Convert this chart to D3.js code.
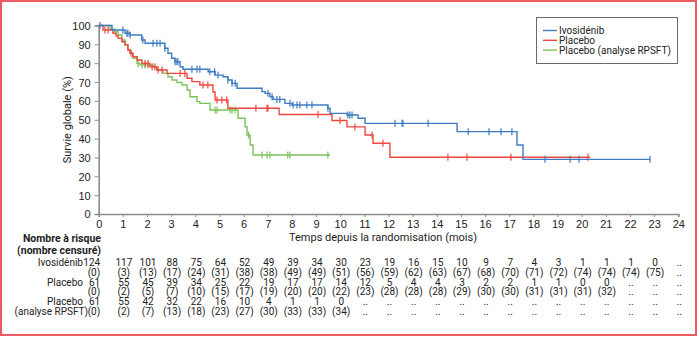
<!DOCTYPE html>
<html>
<head>
<meta charset="utf-8">
<script src="https://cdn.jsdelivr.net/npm/d3@7"></script>
<style>
  body { margin: 0; background: #fff; }
  svg { display: block; font-family: Roboto, "Liberation Sans", sans-serif; }
</style>
</head>
<body>
<svg id="km" width="700" height="337"></svg>
<script>
// x ticks (months) and y ticks (%)
const months = d3.range(0, 25)
const yTicks = d3.range(0, 101, 10)

// Ivosidenib curve: step start times and survival (%)
const ivoT = [0, 0.55, 1.09, 1.30, 1.78, 1.92, 2.74, 2.87, 3.02, 3.16, 3.37, 3.49, 4.53, 4.82, 5.15, 5.35, 5.52, 5.73, 6.76, 6.89, 7.09, 7.22, 7.71, 8.00, 9.49, 9.58, 10.28, 10.74, 11.03, 14.84, 17.32, 17.57]
const ivoS = [100, 97.6, 95.9, 95.0, 92.3, 90.6, 87.9, 85.3, 82.6, 80.8, 78.1, 76.8, 75.5, 73.7, 72.8, 71.1, 69.3, 66.7, 64.9, 64.0, 62.2, 60.8, 58.7, 57.8, 56.1, 53.4, 52.5, 50.8, 48.1, 43.7, 36.6, 29.0]
const ivoEnd = 22.83
const ivoCens = [0.05, 1.0, 1.17, 1.21, 1.3, 1.83, 2.25, 2.41, 2.54, 2.74, 3.16, 3.24, 3.28, 3.86, 4.07, 4.19, 4.6, 4.8, 4.94, 5.35, 5.52, 5.65, 7.01, 7.18, 7.38, 7.5, 7.92, 8.05, 8.21, 8.33, 8.62, 8.83, 9.49, 10.32, 10.4, 10.49, 12.27, 12.56, 12.6, 13.64, 15.3, 16.16, 16.66, 17.11, 18.48, 19.52, 19.89, 22.83]

// Placebo curve
const plaT = [0, 0.18, 0.59, 0.72, 0.80, 0.96, 1.09, 1.21, 1.30, 1.42, 1.59, 1.79, 2.12, 2.41, 2.83, 3.66, 3.86, 4.19, 4.73, 4.82, 5.35, 7.47, 9.66, 10.28, 11.03, 11.36, 12.06]
const plaS = [100, 97.6, 95.9, 94.6, 93.2, 91.4, 89.7, 87.0, 85.3, 83.4, 81.7, 79.9, 78.1, 76.4, 74.6, 72.0, 70.2, 68.4, 64.7, 60.5, 56.1, 52.8, 49.6, 46.2, 41.9, 37.5, 30.1]
const plaEnd = 20.35
const plaCens = [0.26, 0.39, 1.34, 1.92, 2.04, 2.21, 2.33, 2.46, 2.62, 3.37, 3.57, 4.32, 4.52, 4.9, 5.1, 5.3, 6.51, 6.97, 7.01, 9.08, 9.99, 10.61, 11.32, 11.77, 14.46, 15.25, 17.07, 20.26]

// Placebo (analyse RPSFT) curve
const rpsT = [0, 0.47, 0.67, 0.80, 0.96, 1.09, 1.21, 1.30, 1.42, 1.59, 1.71, 2.25, 2.41, 2.66, 2.87, 3.04, 3.24, 3.45, 3.66, 3.78, 4.07, 4.19, 4.61, 5.77, 6.06, 6.14, 6.27, 6.39]
const rpsS = [100, 98.0, 96.7, 95.0, 92.3, 89.7, 87.0, 85.3, 82.6, 79.9, 79.1, 78.1, 76.4, 74.6, 72.8, 71.1, 69.8, 68.4, 65.8, 62.2, 59.6, 58.7, 55.2, 50.8, 46.3, 41.9, 36.6, 31.3]
const rpsEnd = 9.58
const rpsCens = [1.63, 1.8, 1.92, 2.04, 4.82, 4.9, 5.44, 5.52, 5.65, 6.2, 6.76, 6.97, 7.09, 7.83, 7.92, 9.49]

// risk table (null = "..")
const ivoRisk = [124, 117, 101, 88, 75, 64, 52, 49, 39, 34, 30, 23, 19, 16, 15, 10, 9, 7, 4, 3, 1, 1, 1, 0, null]
const ivoCensN = [0, 3, 13, 17, 24, 31, 38, 38, 49, 49, 51, 56, 59, 62, 63, 67, 68, 70, 71, 72, 74, 74, 74, 75, null]
const plaRisk = [61, 55, 45, 39, 34, 25, 22, 19, 17, 17, 14, 12, 5, 4, 4, 3, 2, 2, 1, 1, 0, 0, null, null, null]
const plaCensN = [0, 2, 5, 7, 10, 15, 17, 19, 20, 20, 22, 23, 28, 28, 28, 29, 30, 30, 31, 31, 31, 32, null, null, null]
const rpsRisk = [61, 55, 42, 32, 22, 16, 10, 4, 1, 1, 0, null, null, null, null, null, null, null, null, null, null, null, null, null, null]
const rpsCensN = [0, 2, 7, 13, 18, 23, 27, 30, 33, 33, 34, null, null, null, null, null, null, null, null, null, null, null, null, null, null]

const seriesNames = ["Ivosidénib", "Placebo", "Placebo (analyse RPSFT)"]
const colors = ["#3d7cc2", "#ef4840", "#7cc25a"]

const svg = d3.select("#km")
const x = d3.scaleLinear().domain([0, 24]).range([98.7, 678.3])
const y = d3.scaleLinear().domain([0, 100]).range([214, 25.5])
const txt = "#222"
const axisCol = "#8c8c8c"

// frame
svg.append("rect").attr("x", 1).attr("y", 1).attr("width", 695).attr("height", 334)
    .attr("fill", "none").attr("stroke", "#ec5b60").attr("stroke-width", 2)

// axes
const xAxis = svg.append("g").attr("transform", `translate(0,${y(0)})`)
    .call(d3.axisBottom(x).tickValues(months).tickSize(3).tickPadding(3).tickFormat(d3.format("d")))
const yAxis = svg.append("g").attr("transform", `translate(${x(0)},0)`)
    .call(d3.axisLeft(y).tickValues(yTicks).tickSize(4).tickPadding(4))
for (const g of [xAxis, yAxis]) {
    g.select(".domain").attr("stroke", axisCol).attr("stroke-width", 1.6)
    g.selectAll(".tick line").attr("stroke", axisCol).attr("stroke-width", 1)
    g.selectAll(".tick text").attr("fill", txt).style("font-size", "11px")
}
yAxis.selectAll(".tick text").attr("dy", "0.36em")

svg.append("text").attr("transform", `translate(71,${(y(0) + y(100)) / 2}) rotate(-90)`)
    .attr("text-anchor", "middle").attr("fill", txt).style("font-size", "11px")
    .text("Survie globale (%)")
svg.append("text").attr("x", 383).attr("y", 241).attr("text-anchor", "middle")
    .attr("fill", txt).style("font-size", "11px")
    .text("Temps depuis la randomisation (mois)")

// curves
function stepPoints(T, S, end) {
    const pts = T.map((t, i) => [t, S[i]])
    pts.push([end, S[S.length - 1]])
    return pts
}
function survAt(T, S, t) {
    return S[Math.max(0, d3.bisectRight(T, t) - 1)]
}
const line = d3.line().x(d => x(d[0])).y(d => y(d[1])).curve(d3.curveStepAfter)
const curves = [
    [ivoT, ivoS, ivoEnd, ivoCens],
    [plaT, plaS, plaEnd, plaCens],
    [rpsT, rpsS, rpsEnd, rpsCens]
]
// draw back to front: green, red, blue
;[2, 1, 0].forEach(k => {
    const [T, S, end, cens] = curves[k]
    const g = svg.append("g")
    g.append("path").attr("d", line(stepPoints(T, S, end)))
        .attr("fill", "none").attr("stroke", colors[k]).attr("stroke-width", 1.4)
    g.selectAll("line").data(cens).enter().append("line")
        .attr("x1", d => x(d)).attr("x2", d => x(d))
        .attr("y1", d => y(survAt(T, S, d)) - 3.5).attr("y2", d => y(survAt(T, S, d)) + 3.5)
        .attr("stroke", colors[k]).attr("stroke-width", 1.2)
})

// legend
const lg = svg.append("g")
lg.append("rect").attr("x", 536.5).attr("y", 17.5).attr("width", 141).attr("height", 46)
    .attr("fill", "#fff").attr("stroke", "#6a6a6a").attr("stroke-width", 1)
seriesNames.forEach((n, i) => {
    const ly = 30.5 + i * 9.8
    lg.append("line").attr("x1", 543).attr("x2", 557).attr("y1", ly).attr("y2", ly)
        .attr("stroke", colors[i]).attr("stroke-width", 1.4)
    lg.append("text").attr("x", 559).attr("y", ly + 3.5).attr("fill", txt)
        .style("font-size", "10px").text(n)
})

// risk table
const tbl = svg.append("g").style("font-size", "10px").attr("fill", txt)
tbl.append("text").attr("x", 101).attr("y", 242).attr("text-anchor", "end")
    .style("font-weight", "bold").style("font-size", "10.5px").text("Nombre à risque")
tbl.append("text").attr("x", 101).attr("y", 254).attr("text-anchor", "end")
    .style("font-weight", "bold").style("font-size", "10.5px").text("(nombre censuré)")
const rowLabels = [["Ivosidénib", 83, 266], ["Placebo", 83, 285.5], ["Placebo", 83, 305], ["(analyse RPSFT)", 88, 314.8]]
rowLabels.forEach(([s, lx, ly]) => {
    tbl.append("text").attr("x", lx).attr("y", ly).attr("text-anchor", "end").text(s)
})
const rows = [ivoRisk, ivoCensN, plaRisk, plaCensN, rpsRisk, rpsCensN]
rows.forEach((vals, r) => {
    const ry = 266 + r * 9.8
    const isCens = r % 2 === 1
    tbl.selectAll(null).data(vals).enter().append("text")
        .attr("x", (d, i) => i === 0 ? x(0) + 1.5 : x(months[i]) + 1)
        .attr("y", ry)
        .attr("text-anchor", (d, i) => i === 0 ? "end" : "middle")
        .text(d => d === null ? ".." : (isCens ? `(${d})` : d))
})
</script>
</body>
</html>
